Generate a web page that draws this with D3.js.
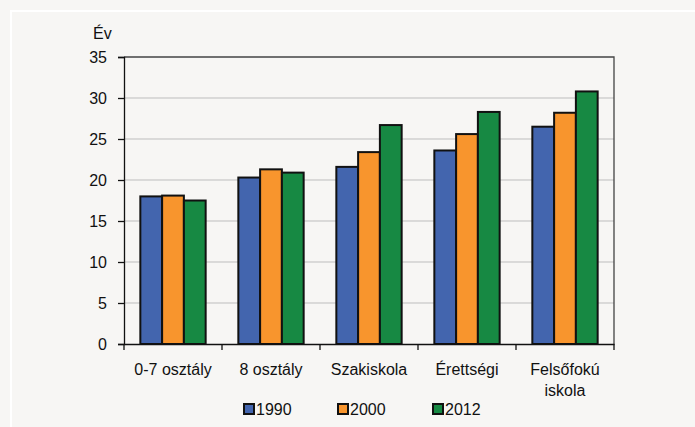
<!DOCTYPE html>
<html>
<head>
<meta charset="utf-8">
<script src="https://cdn.jsdelivr.net/npm/d3@7"></script>
<style>
  body { margin: 0; background: #f7f6f4; }
  svg { display: block; }
  text { font-family: "Liberation Sans", Arial, sans-serif; fill: #111; }
</style>
</head>
<body>
<div id="chart"></div>
<script>
const categories = [['0-7 osztály'], ['8 osztály'], ['Szakiskola'], ['Érettségi'], ['Felsőfokú', 'iskola']];
const years = ['1990', '2000', '2012'];
const values1990 = [18.0, 20.3, 21.6, 23.6, 26.5];
const values2000 = [18.1, 21.3, 23.4, 25.6, 28.2];
const values2012 = [17.5, 20.9, 26.7, 28.3, 30.8];
const yTicks = [0, 5, 10, 15, 20, 25, 30, 35];

const colors = ['#4365ae', '#f8952d', '#178943'];
const series = [values1990, values2000, values2012];

const width = 695;
const height = 427;
const plotLeft = 124, plotRight = 614, plotTop = 57, plotBottom = 344;

const svg = d3.select('#chart')
    .append('svg')
    .attr('width', width)
    .attr('height', height);

// white frame
svg.append('rect')
    .attr('x', 11).attr('y', 11)
    .attr('width', 720).attr('height', 440)
    .attr('fill', 'none')
    .attr('stroke', '#ffffff')
    .attr('stroke-width', 2);

const catNames = categories.map(c => c.join(' '));

const xScale = d3.scaleBand()
    .domain(catNames)
    .range([plotLeft, plotRight]);

const bw = xScale.bandwidth();
const xInner = d3.scaleBand()
    .domain(years)
    .range([bw * 0.1667, bw * 0.8333]);

const yScale = d3.scaleLinear()
    .domain([0, 35])
    .range([plotBottom, plotTop]);

// gridlines
svg.append('g')
    .selectAll('line')
    .data(yTicks.filter(d => d > 0 && d < 35))
    .enter()
    .append('line')
    .attr('x1', plotLeft).attr('x2', plotRight)
    .attr('y1', d => yScale(d)).attr('y2', d => yScale(d))
    .attr('stroke', '#bdbdbd')
    .attr('stroke-width', 1);

// top and right frame
svg.append('path')
    .attr('d', `M${plotLeft},${yScale(35)}H${plotRight}V${plotBottom}`)
    .attr('fill', 'none')
    .attr('stroke', '#444')
    .attr('stroke-width', 1.3);

// bars
const groups = svg.append('g')
    .selectAll('g')
    .data(catNames)
    .enter()
    .append('g')
    .attr('transform', d => 'translate(' + xScale(d) + ',0)');

groups.selectAll('rect')
    .data((d, i) => years.map((y, j) => ({ year: y, value: series[j][i], color: colors[j] })))
    .enter()
    .append('rect')
    .attr('x', d => xInner(d.year))
    .attr('width', xInner.bandwidth())
    .attr('y', d => yScale(d.value))
    .attr('height', d => plotBottom - yScale(d.value))
    .attr('fill', d => d.color)
    .attr('stroke', '#111')
    .attr('stroke-width', 2);

// y axis
const yAxis = d3.axisLeft(yScale)
    .tickValues(yTicks)
    .tickSize(6)
    .tickPadding(11);

const yG = svg.append('g')
    .attr('transform', 'translate(' + plotLeft + ',0)')
    .call(yAxis);
yG.select('.domain').attr('stroke', '#111').attr('stroke-width', 1.3);
yG.selectAll('.tick line').attr('stroke', '#111').attr('stroke-width', 1.3);
yG.selectAll('.tick text')
    .attr('font-size', 16)
    .attr('font-family', '"Liberation Sans", Arial, sans-serif')
    .attr('fill', '#111');

// x axis
const xAxis = d3.axisBottom(xScale)
    .tickSize(0)
    .tickFormat('');

const xG = svg.append('g')
    .attr('transform', 'translate(0,' + plotBottom + ')')
    .call(xAxis);
xG.select('.domain').attr('stroke', '#111').attr('stroke-width', 1.3);

// ticks at band boundaries
xG.append('g')
    .selectAll('line')
    .data(catNames.map(c => xScale(c)).concat([plotRight]))
    .enter()
    .append('line')
    .attr('x1', d => d).attr('x2', d => d)
    .attr('y1', 0).attr('y2', 6)
    .attr('stroke', '#111')
    .attr('stroke-width', 1.3);

// category labels
svg.append('g')
    .selectAll('text')
    .data(categories)
    .enter()
    .append('text')
    .attr('text-anchor', 'middle')
    .attr('font-size', 16)
    .attr('x', (d, i) => xScale(catNames[i]) + bw / 2)
    .attr('y', 375)
    .selectAll('tspan')
    .data(d => d)
    .enter()
    .append('tspan')
    .attr('x', function () { return this.parentNode.getAttribute('x'); })
    .attr('dy', (d, i) => i === 0 ? 0 : 21)
    .text(d => d);

// y title
svg.append('text')
    .attr('x', 93)
    .attr('y', 39)
    .attr('font-size', 16)
    .text('Év');

// legend
const legendX = [244, 338, 433];
const legend = svg.append('g')
    .selectAll('g')
    .data(years)
    .enter()
    .append('g')
    .attr('transform', (d, i) => 'translate(' + legendX[i] + ',404)');

legend.append('rect')
    .attr('width', 10).attr('height', 10)
    .attr('fill', (d, i) => colors[i])
    .attr('stroke', '#111')
    .attr('stroke-width', 2);

legend.append('text')
    .attr('x', 12)
    .attr('y', 10.5)
    .attr('font-size', 16)
    .text(d => d);
</script>
</body>
</html>
